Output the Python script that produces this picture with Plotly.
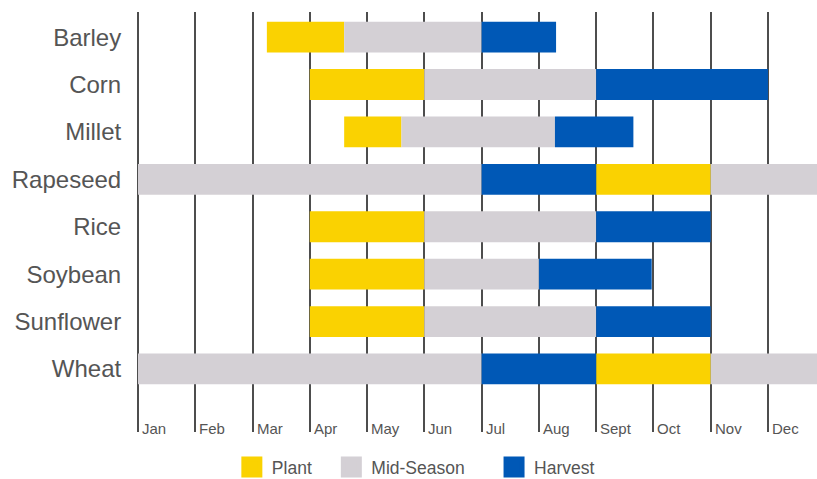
import plotly.graph_objects as go

# ---- data ----
crops = ["Barley", "Corn", "Millet", "Rapeseed", "Rice", "Soybean", "Sunflower", "Wheat"]
months = ["Jan", "Feb", "Mar", "Apr", "May", "Jun", "Jul", "Aug", "Sept", "Oct", "Nov", "Dec"]

# month positions: 0 = start of Jan, 12 = end of Dec
plant_start = [2.25, 3.0, 3.6, 8.0, 3.0, 3.0, 3.0, 8.0]
plant_end = [3.6, 5.0, 4.6, 10.0, 5.0, 5.0, 5.0, 10.0]
mid_start = [3.6, 5.0, 4.6, 0.0, 5.0, 5.0, 5.0, 0.0]
mid_end = [6.0, 8.0, 7.28, 6.0, 8.0, 7.0, 8.0, 6.0]
harvest_start = [6.0, 8.0, 7.28, 6.0, 8.0, 7.0, 8.0, 6.0]
harvest_end = [7.3, 11.0, 8.65, 8.0, 10.0, 8.97, 10.0, 8.0]
# second mid-season span (winter crops)
late_crops = ["Rapeseed", "Wheat"]
late_mid_start = [10.0, 10.0]
late_mid_end = [12.0, 12.0]

YELLOW = "#FAD201"
GRAY = "#D4D0D5"
BLUE = "#0058B6"
TEXT = "#555555"
FONT = "Liberation Sans, Arial, sans-serif"

fig = go.Figure()


def seg(name, ys, s, e, color):
    fig.add_trace(go.Bar(
        y=ys, x=[b - a for a, b in zip(s, e)], base=s, orientation="h",
        marker=dict(color=color, line=dict(width=0)), width=0.65,
        name=name, showlegend=False, hoverinfo="skip",
    ))


seg("Plant", crops, plant_start, plant_end, YELLOW)
seg("Mid-Season", crops, mid_start, mid_end, GRAY)
seg("Mid-Season", late_crops, late_mid_start, late_mid_end, GRAY)
seg("Harvest", crops, harvest_start, harvest_end, BLUE)

NB = "\u00a0"
legend_items = [("Plant" + NB * 3, YELLOW), ("Mid-Season" + NB * 5, GRAY), ("Harvest", BLUE)]
for name, color in legend_items:
    fig.add_trace(go.Scatter(
        x=[None], y=[None], mode="markers", name=name,
        marker=dict(symbol="square", size=30, color=color,
                    line=dict(color=color, width=5)),
    ))

for i, m in enumerate(months):
    fig.add_annotation(
        x=i, xref="x", y=0, yref="paper", text=m, showarrow=False,
        xanchor="left", yanchor="middle", xshift=2, yshift=4,
        font=dict(family=FONT, size=15, color=TEXT),
    )

plot_w_months = (817 - 138) / 57.27

fig.update_layout(
    width=817, height=479,
    margin=dict(l=138, r=0, t=12, b=47),
    plot_bgcolor="white", paper_bgcolor="white",
    barmode="overlay",
    font=dict(family=FONT, color=TEXT),
    xaxis=dict(
        range=[0, plot_w_months], tick0=0, dtick=1, showgrid=True,
        gridcolor="#4d4d4d", gridwidth=1.5, zeroline=True,
        zerolinecolor="#4d4d4d", zerolinewidth=1.5,
        showticklabels=False, ticks="", showline=False, fixedrange=True,
    ),
    yaxis=dict(
        categoryorder="array", categoryarray=crops,
        range=[8.33, -0.53], showgrid=False, zeroline=False,
        tickfont=dict(family=FONT, size=24, color=TEXT),
        ticks="outside", ticklen=11, tickcolor="rgba(0,0,0,0)",
        showline=False, fixedrange=True,
    ),
    legend=dict(
        orientation="h", xref="container", yref="container",
        x=0.509, xanchor="center", y=0.025, yanchor="middle",
        font=dict(family=FONT, size=17.5, color=TEXT),
        itemsizing="trace", itemwidth=30,
    ),
    showlegend=True,
)

fig.write_html(
    "out.html",
    config={"displayModeBar": False},
    post_script="document.body.style.margin='0';document.body.style.overflow='hidden';",
)
